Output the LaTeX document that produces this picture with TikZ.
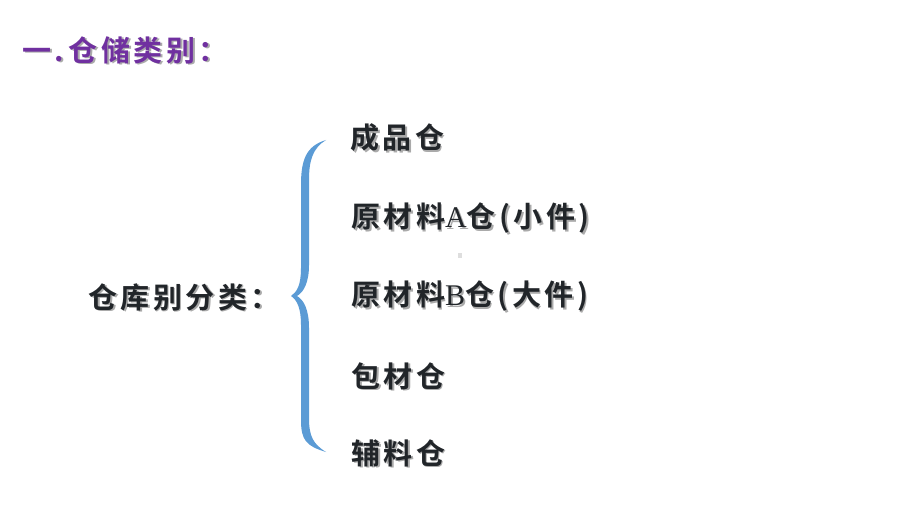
\documentclass[tikz,border=0pt]{standalone}
\usepackage{fontspec}
\usepackage{tikz}
\usetikzlibrary{positioning}
\newfontfamily\cjk{Noto Sans CJK SC}[BoldFont={Noto Sans CJK SC Bold}, LetterSpace=12]
\newfontfamily\latinSerif{Liberation Serif}
\definecolor{titleColor}{RGB}{112,48,160}
\definecolor{itemColor}{RGB}{33,37,41}
\definecolor{shadowColor}{RGB}{170,170,170}
\definecolor{braceColor}{RGB}{91,155,213}
\definecolor{dotColor}{RGB}{222,222,222}
\tikzstyle{slide} = [x = 1pt, y = -1pt]
\tikzstyle{itemText} = [anchor=west, inner sep=0pt, font=\cjk\bfseries\fontsize{29}{29}\selectfont, text=itemColor]
\tikzstyle{titleText} = [itemText, text=titleColor]
\tikzstyle{shadowText} = [itemText, text=shadowColor]
\newcommand{\shadowShift}{1.8}
\newcommand{\itemNode}[4]{\node [shadowText] at (#2 + \shadowShift, #3 + \shadowShift) {#4};
  \node [itemText] (#1) at (#2, #3) {#4};}
\newcommand{\titleNode}[4]{\node [shadowText] at (#2 + \shadowShift, #3 + \shadowShift) {#4};
  \node [titleText] (#1) at (#2, #3) {#4};}
\newcommand{\serifLetter}[1]{{\latinSerif\mdseries\fontsize{30}{30}\selectfont #1}}

\begin{document}
\begin{tikzpicture}[slide]
  \useasboundingbox (0,0) rectangle (920,518);
  % heading
  \titleNode{title}{22}{50}{一.\,仓储类别：}
  % left label
  \itemNode{category}{88}{297}{仓库别分类：}
  % brace
  \fill [braceColor] (326,140) .. controls (306,146) and (301,160) .. (301,185) -- (301,268)
    .. controls (301,285) and (297,292) .. (291,296) .. controls (297,300) and (301,308) .. (301,325)
    -- (301,420) .. controls (301,440) and (306,446) .. (326,452)
    .. controls (313,444) and (309,436) .. (309,418) -- (309,328)
    .. controls (309,310) and (304,300) .. (297,296) .. controls (304,292) and (309,282) .. (309,265)
    -- (309,180) .. controls (309,160) and (313,148) .. (326,140) -- cycle;
  % warehouses
  \itemNode{finished}{350}{138}{成品仓}
  \itemNode{rawA}{351}{218}{原材料\serifLetter{A}仓(小件)}
  \itemNode{rawB}{351}{296}{原材料\serifLetter{B}仓(大件)}
  \itemNode{packing}{351}{376}{包材仓}
  \itemNode{auxiliary}{351}{453}{辅料仓}
  \fill [dotColor] (458,253) rectangle + (4,5);
\end{tikzpicture}
\end{document}
